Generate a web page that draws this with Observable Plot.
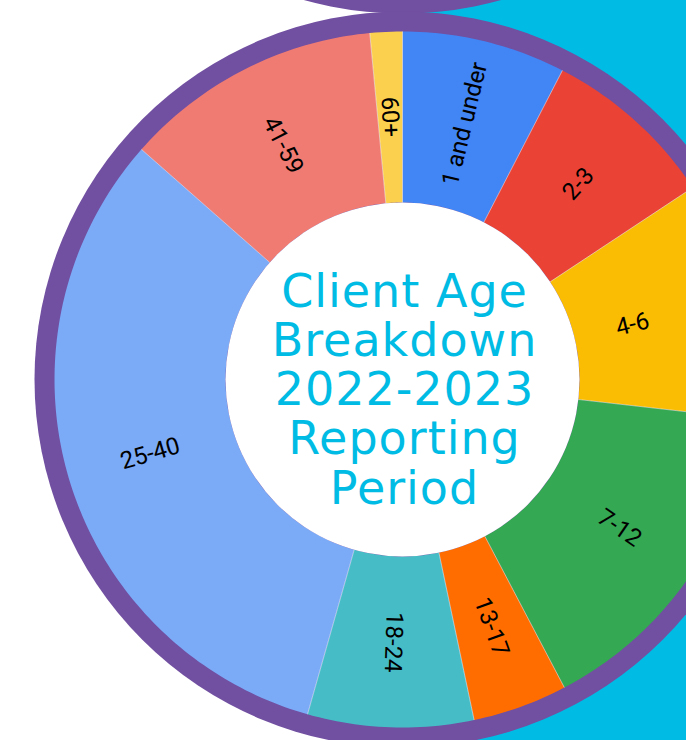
<!DOCTYPE html>
<html>
<head>
<meta charset="utf-8">
<script src="https://cdn.jsdelivr.net/npm/d3@7"></script>
<script src="https://cdn.jsdelivr.net/npm/@observablehq/plot@0.6"></script>
<style>
  html, body { margin: 0; padding: 0; background: #ffffff; overflow: hidden; }
  #chart svg { display: block; overflow: hidden; }
  .title text { letter-spacing: 1px; }
</style>
</head>
<body>
<div id="chart"></div>
<script>
// ---- data ----
const ageGroups = ["1 and under", "2-3", "4-6", "7-12", "13-17", "18-24", "25-40", "41-59", "60+"];
const shares    = [7.6, 8.1, 11.1, 15.5, 4.4, 7.7, 32.1, 12.0, 1.5];
const sliceColors = ["#4285F4", "#EA4335", "#FBBC04", "#34A853", "#FF6D01", "#46BDC6", "#7BAAF7", "#F07B72", "#FCD04F"];
const titleLines = ["Client Age", "Breakdown", "2022-2023", "Reporting", "Period"];

// ---- layout ----
const W = 686, H = 740;
const cx = 402, cy = 379;          // pie centre (px)
const rOuter = 348, rInner = 177, ringR = 368, labelR = 263;
const labelMaxX = W - cx - 54;     // labels kept inside the visible chart area
const blobOffset = -734;           // centre of the neighbouring ring above
const cyanLeft = 412;
const purple = "#714FA1", cyan = "#00BCE5";

// ---- derived geometry ----
const total = d3.sum(shares);
const slicePts = [], seps = [], labels = [];
let acc = 0;
ageGroups.forEach((g, i) => {
  const a0 = acc / total * 2 * Math.PI;
  acc += shares[i];
  const a1 = acc / total * 2 * Math.PI;
  const n = Math.max(2, Math.ceil((a1 - a0) / (Math.PI / 180)));
  const pts = [];
  for (let k = 0; k <= n; k++) {
    const a = a0 + (a1 - a0) * k / n;
    pts.push({group: g, x: rOuter * Math.sin(a), y: -rOuter * Math.cos(a)});
  }
  for (let k = n; k >= 0; k--) {
    const a = a0 + (a1 - a0) * k / n;
    pts.push({group: g, x: rInner * Math.sin(a), y: -rInner * Math.cos(a)});
  }
  pts.push(pts[0]);
  slicePts.push(...pts);
  seps.push({x1: rInner * Math.sin(a0), y1: -rInner * Math.cos(a0), x2: rOuter * Math.sin(a0), y2: -rOuter * Math.cos(a0)});
  const am = (a0 + a1) / 2;
  const deg = am * 180 / Math.PI;
  let rot = deg - 90;
  if (rot > 100) rot -= 180;
  let lr = labelR;
  if (lr * Math.sin(am) > labelMaxX) lr = labelMaxX / Math.sin(am);
  labels.push({text: g, x: lr * Math.sin(am), y: -lr * Math.cos(am), rotate: rot});
});

const chart = Plot.plot({
  width: W,
  height: H,
  margin: 0,
  x: {domain: [-cx, W - cx], range: [0, W], axis: null},
  y: {domain: [-cy, H - cy], range: [0, H], axis: null},
  color: {domain: ageGroups, range: sliceColors},
  style: {background: "#ffffff", overflow: "hidden"},
  marks: [
    Plot.rect([{x1: cyanLeft - cx, x2: W - cx, y1: -cy, y2: H - cy}], {x1: "x1", x2: "x2", y1: "y1", y2: "y2", fill: cyan}),
    Plot.dot([{x: 0, y: blobOffset}], {x: "x", y: "y", r: ringR, fill: purple, stroke: null}),
    Plot.dot([{x: 0, y: 0}], {x: "x", y: "y", r: ringR, fill: purple, stroke: null}),
    Plot.line(slicePts, {x: "x", y: "y", z: "group", fill: "group", stroke: null, curve: "linear"}),
    Plot.link(seps, {x1: "x1", y1: "y1", x2: "x2", y2: "y2", stroke: "#ffffff", strokeWidth: 0.6, strokeOpacity: 0.8}),
    Plot.dot([{x: 0, y: 0}], {x: "x", y: "y", r: rInner, fill: "#ffffff", stroke: null}),
    Plot.text(labels, {x: "x", y: "y", text: "text", rotate: "rotate", fontSize: 24, fontFamily: "Roboto, sans-serif", fill: "#000000", textAnchor: "middle", lineAnchor: "middle"}),
    Plot.text([{x: 2, y: 10, text: titleLines.join("\n")}], {x: "x", y: "y", text: "text", fontSize: 46, lineHeight: 1.07, fontFamily: "DejaVu Sans, sans-serif", fill: cyan, textAnchor: "middle", lineAnchor: "middle", className: "title"})
  ]
});
document.getElementById("chart").appendChild(chart);
</script>
</body>
</html>
